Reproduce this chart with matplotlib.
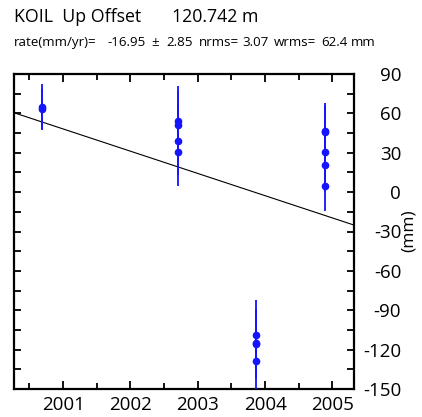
import numpy as np
import matplotlib.pyplot as plt
from matplotlib.ticker import MultipleLocator

plt.rcParams['font.family'] = ['Open Sans', 'DejaVu Sans']
plt.rcParams['axes.unicode_minus'] = False

# Up component observations (decimal year, mm, 1-sigma mm)
t_obs = [2000.69, 2000.69,
         2002.71, 2002.71, 2002.71, 2002.71,
         2003.87, 2003.87, 2003.87, 2003.87,
         2004.89, 2004.89, 2004.89, 2004.89, 2004.89]
up_mm = [65.1, 63.1,
         54.4, 50.9, 39.2, 30.3,
         -109.1, -115.2, -115.7, -128.4,
         46.6, 45.6, 30.3, 20.7, 4.9]
sig_mm = [17.0, 15.5,
          26.7, 26.0, 26.0, 25.4,
          27.0, 26.5, 26.5, 26.0,
          21.5, 21.0, 20.5, 20.0, 19.3]

# Linear fit
rate = -16.95
t_ref = 2000.27
y_ref = 60.5
t_fit = np.array([2000.27, 2005.32])
y_fit = y_ref + rate * (t_fit - t_ref)

# header pieces: (left pixel, text)
title_parts = [(14, 'KOIL  Up Offset'), (172, '120.742 m')]
stats_parts = [(14, 'rate(mm/yr)='), (107, '-16.95'), (151, '\u00b1'),
               (166, '2.85'), (199, 'nrms='), (242, '3.07'),
               (274, 'wrms='), (321, '62.4'), (351, 'mm')]

blue = '#1414ff'
W, H = 422, 417

fig = plt.figure(figsize=(W / 100, H / 100), dpi=100)
ax = fig.add_axes([14 / W, 28 / H, 340 / W, 315 / H])

ax.plot(t_fit, y_fit, color='black', lw=0.8)
ax.errorbar(t_obs, up_mm, yerr=sig_mm, fmt='o', color=blue, ms=4.5,
            elinewidth=1.3, capsize=0, zorder=3)

ax.set_xlim(2000.27, 2005.32)
ax.set_ylim(-150, 90)
ax.xaxis.set_major_locator(MultipleLocator(1))
ax.xaxis.set_minor_locator(MultipleLocator(0.5))
ax.yaxis.set_major_locator(MultipleLocator(30))
ax.yaxis.set_minor_locator(MultipleLocator(15))

for s in ax.spines.values():
    s.set_linewidth(1.6)

ax.tick_params(axis='x', which='both', direction='in', top=True, bottom=True,
               width=1.3, labelsize=13.5, pad=5)
ax.tick_params(axis='x', which='major', length=6)
ax.tick_params(axis='x', which='minor', length=4)
ax.tick_params(axis='y', which='both', direction='in', left=True, right=True,
               labelleft=False, labelright=True, width=1.3, length=5,
               labelsize=13.5, pad=34)
for lab in ax.get_yticklabels():
    lab.set_horizontalalignment('right')

fig.text(409 / W, 1 - 231 / H, '(mm)', rotation=90, ha='center', va='center',
         fontsize=12.5)

for x, s in title_parts:
    fig.text(x / W, 1 - 22 / H, s, fontsize=12.8)
for x, s in stats_parts:
    fig.text(x / W, 1 - 46 / H, s, fontsize=9.6)

fig.savefig('out.png', dpi=100)
